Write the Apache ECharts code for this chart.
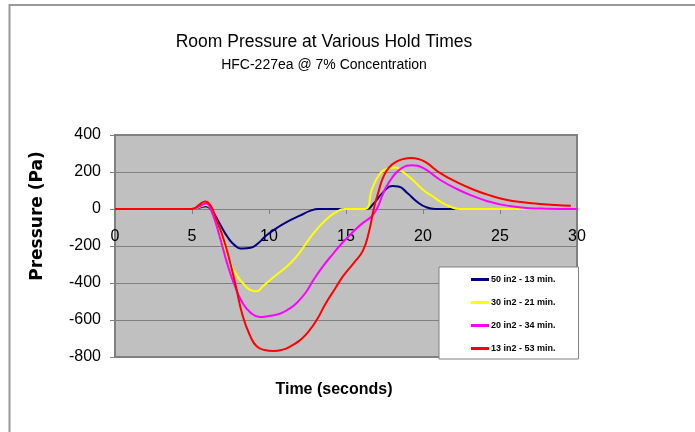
<!DOCTYPE html>
<html>
<head>
<meta charset="utf-8">
<script src="https://cdn.jsdelivr.net/npm/echarts@6/dist/echarts.min.js"></script>
<style>
  html, body { margin: 0; padding: 0; background: #fff; }
  #chart { width: 695px; height: 432px; }
</style>
</head>
<body>
<div id="chart"></div>
<script>
    // values: [time (s), pressure (Pa)]
    var seriesNames = ["50 in2 - 13 min.", "30 in2 - 21 min.", "20 in2 - 34 min.", "13 in2 - 53 min."];
    var seriesColors = ["#000080", "#ffff00", "#ff00ff", "#ff0000"];

    var blueData = [[0,0],[5,0],[5.5,8],[5.9,15],[6.3,-10],[6.8,-80],[7.3,-150],[7.8,-198],[8.3,-214],[8.8,-210],
        [9.3,-185],[9.8,-145],[10.5,-103],[11.2,-68],[12,-36],[12.7,-9],[13.2,0],[16.3,0],[16.8,30],[17.4,90],
        [18,125],[18.4,122],[19,85],[19.6,40],[20.2,10],[20.8,0],[30,0]];

    var yellowData = [[0,0],[5,0],[5.5,12],[5.9,22],[6.3,-10],[6.8,-120],[7.3,-250],[7.8,-345],[8.3,-400],[8.8,-438],
        [9.2,-445],[9.6,-418],[10.1,-382],[10.8,-335],[11.4,-292],[12,-235],[12.5,-175],[13.1,-110],[13.7,-58],
        [14.3,-20],[14.9,0],[16.2,0],[16.7,110],[17.2,190],[17.7,218],[18.2,224],[18.7,200],[19.3,160],[20,104],
        [20.6,70],[21.1,41],[21.7,15],[22.4,0],[30,0]];

    var magentaData = [[0,0],[5,0],[5.5,15],[5.9,30],[6.3,-20],[6.8,-150],[7.3,-300],[7.8,-420],[8.3,-510],[8.8,-560],
        [9.4,-584],[10,-578],[10.7,-566],[11.3,-540],[11.8,-508],[12.4,-450],[12.9,-382],[13.5,-310],[14.2,-238],
        [14.8,-180],[15.5,-120],[16.1,-75],[16.6,-45],[17,0],[17.5,100],[18,170],[18.6,220],[19.3,236],[20,222],
        [21.1,158],[22.2,108],[23.3,68],[24.2,42],[25,25],[26,12],[26.7,6],[28,2],[30,0]];

    var redData = [[0,0],[5,0],[5.5,25],[5.85,41],[6.2,20],[6.6,-60],[7,-150],[7.4,-265],[7.8,-400],[8.3,-580],
        [8.8,-690],[9.2,-742],[9.7,-762],[10.3,-768],[10.9,-760],[11.4,-742],[12,-710],[12.5,-670],[13.1,-600],
        [13.7,-508],[14.3,-430],[14.8,-364],[15.5,-292],[16.1,-225],[16.5,-120],[16.8,0],[17.1,90],[17.4,168],
        [17.8,225],[18.3,257],[18.8,272],[19.2,276],[19.7,270],[20.2,252],[21.1,195],[22.2,145],[23.3,104],
        [24.4,72],[25.4,50],[26.5,36],[27.6,27],[28.6,21],[29.6,17]];

    var allData = [blueData, yellowData, magentaData, redData];

    var xMin = 0, xMax = 30, xStep = 5;
    var yMin = -800, yMax = 400, yStep = 200;

    var chart = echarts.init(document.getElementById("chart"));

    var series = [];
    for (var i = 0; i < allData.length; i++) {
        series.push({
            name: seriesNames[i],
            type: "line",
            data: allData[i],
            symbol: "none",
            smooth: 0.5,
            lineStyle: { color: seriesColors[i], width: 2 },
            itemStyle: { color: seriesColors[i] }
        });
    }

    var option = {
        animation: false,
        textStyle: { fontFamily: "Liberation Sans, Arial, sans-serif" },
        grid: {
            left: 115, top: 135, width: 462, height: 222,
            show: true,
            backgroundColor: "#c0c0c0",
            borderColor: "#808080",
            borderWidth: 2
        },
        graphic: [
            { type: "polyline", silent: true,
              shape: { points: [[9.5, 432], [9.5, 5], [695, 5]] },
              style: { stroke: "#999", lineWidth: 2, fill: null } },
            { type: "text", style: { text: "Room Pressure at Various Hold Times", x: 324, y: 42,
              align: "center", verticalAlign: "middle", font: "17.5px Liberation Sans, Arial, sans-serif", fill: "#000" } },
            { type: "text", style: { text: "HFC-227ea @ 7% Concentration", x: 324, y: 65,
              align: "center", verticalAlign: "middle", font: "14px Liberation Sans, Arial, sans-serif", fill: "#000" } },
            { type: "text", style: { text: "Time (seconds)", x: 334, y: 390,
              align: "center", verticalAlign: "middle", font: "bold 16px Liberation Sans, Arial, sans-serif", fill: "#000" } },
            { type: "text", x: 38, y: 216, rotation: Math.PI / 2,
              style: { text: "Pressure (Pa)", x: 0, y: 0,
              align: "center", verticalAlign: "middle", font: "bold 17px DejaVu Sans, sans-serif", fill: "#000" } }
        ],
        legend: {
            orient: "vertical",
            left: 439, top: 267,
            padding: [8, 23, 6, 32],
            itemGap: 14,
            itemWidth: 18, itemHeight: 3,
            icon: "rect",
            backgroundColor: "#fff",
            borderColor: "#808080",
            borderWidth: 1,
            borderRadius: 0,
            data: seriesNames,
            textStyle: { fontSize: 9, fontWeight: "bold", color: "#000",
                fontFamily: "Liberation Sans Narrow, Arial Narrow, Liberation Sans, sans-serif", padding: [0, 0, 0, -3] }
        },
        xAxis: {
            type: "value",
            min: xMin, max: xMax, interval: xStep,
            axisLine: { onZero: true, lineStyle: { color: "#808080", width: 1 } },
            axisTick: { show: true, length: 5, lineStyle: { color: "#808080" } },
            // labels sit just under the zero line, as in the original
            axisLabel: { fontSize: 16, color: "#000", margin: -128 },
            splitLine: { show: false }
        },
        yAxis: {
            type: "value",
            min: yMin, max: yMax, interval: yStep,
            axisLine: { show: true, lineStyle: { color: "#808080", width: 1 } },
            axisTick: { show: true, length: 5, lineStyle: { color: "#808080" } },
            axisLabel: { fontSize: 16, color: "#000", margin: 14 },
            splitLine: { show: true, lineStyle: { color: "#808080", width: 1 } }
        },
        series: series
    };

    chart.setOption(option);
</script>
</body>
</html>
